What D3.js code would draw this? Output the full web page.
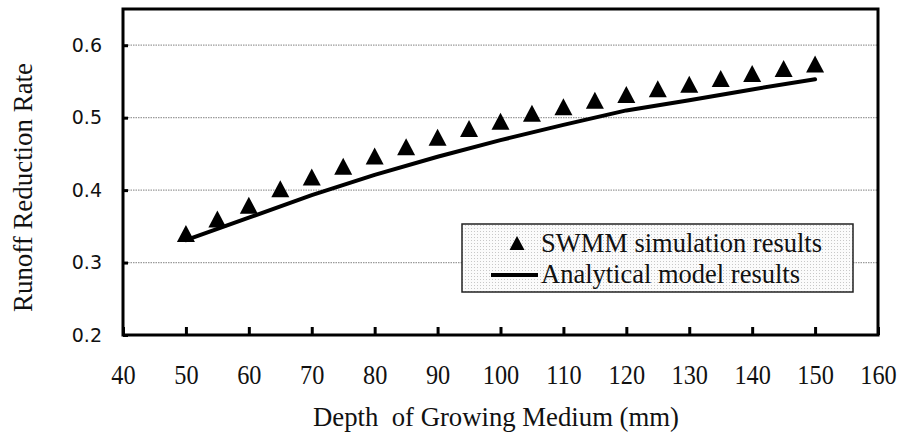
<!DOCTYPE html>
<html><head><meta charset="utf-8">
<script src="https://cdn.jsdelivr.net/npm/d3@7"></script>
<style>body{margin:0;background:#fff}</style>
</head><body>
<svg id="c" width="901" height="441"></svg>
<script>
const swmmDepth = [50,55,60,65,70,75,80,85,90,95,100,105,110,115,120,125,130,135,140,145,150];
const swmmRate = [0.340,0.360,0.379,0.402,0.418,0.433,0.447,0.460,0.473,0.485,0.495,0.506,0.515,0.524,0.532,0.540,0.546,0.554,0.561,0.568,0.574];
const modelDepth = [50,60,70,80,90,100,110,120,130,140,150];
const modelRate = [0.331,0.362,0.393,0.421,0.446,0.469,0.490,0.510,0.524,0.539,0.553];
const xTicks = [40,50,60,70,80,90,100,110,120,130,140,150,160];
const yTicks = [0.2,0.3,0.4,0.5,0.6];
const seriesNames = ["SWMM simulation results","Analytical model results"];
const xTitle = "Depth  of Growing Medium (mm)";
const yTitle = "Runoff Reduction Rate";

const svg = d3.select("#c");
const L=123, R=878, T=9, B=335;
const x = d3.scaleLinear().domain([40,160]).range([L,R]);
const y = d3.scaleLinear().domain([0.2,0.65]).range([B,T]);
const serif = "'Liberation Serif','Times New Roman',serif";
const sans = "'DejaVu Sans',Verdana,sans-serif";

// pattern for legend
const defs = svg.append("defs");
const pat = defs.append("pattern").attr("id","dots").attr("width",3).attr("height",3).attr("patternUnits","userSpaceOnUse");
pat.append("rect").attr("width",3).attr("height",3).attr("fill","#fbfbfb");
pat.append("rect").attr("width",1).attr("height",1).attr("fill","#c8c8c8");

// gridlines
svg.append("g").selectAll("line").data(yTicks.filter(d=>d>0.2)).join("line")
  .attr("x1",L).attr("x2",R).attr("y1",d=>y(d)).attr("y2",d=>y(d))
  .attr("stroke","#9a9a9a").attr("stroke-width",1.2).attr("stroke-dasharray","1.5,1");

// axes
const ya = svg.append("g").attr("transform",`translate(${L},0)`)
  .call(d3.axisLeft(y).tickValues(yTicks).tickFormat(d3.format(".1f")).tickSizeInner(-5).tickSizeOuter(0).tickPadding(21));
ya.select(".domain").remove();
ya.selectAll("line").attr("stroke","#000").attr("stroke-width",3);
ya.selectAll("text").attr("font-family",sans).attr("font-size",19).attr("fill","#111");

const xa = svg.append("g").attr("transform",`translate(0,${B})`)
  .call(d3.axisBottom(x).tickValues(xTicks).tickSizeInner(-8).tickSizeOuter(0).tickPadding(30));
xa.select(".domain").remove();
xa.selectAll("line").attr("stroke","#000").attr("stroke-width",3);
xa.selectAll("text").attr("font-family",serif).attr("font-size",27).attr("fill","#111")
  .attr("transform","scale(0.9,1)").attr("x",function(d){return 0;});
xa.selectAll(".tick text").attr("transform","scale(0.9,1)");

// frame
svg.append("rect").attr("x",L).attr("y",T).attr("width",R-L).attr("height",B-T)
  .attr("fill","none").attr("stroke","#000").attr("stroke-width",3);

// model line
svg.append("path").datum(modelDepth.map((d,i)=>[d,modelRate[i]]))
  .attr("d",d3.line().x(d=>x(d[0])).y(d=>y(d[1])))
  .attr("fill","none").attr("stroke","#000").attr("stroke-width",4).attr("stroke-linecap","round").attr("stroke-linejoin","round");

// triangles
const tri = (w,h)=>`M0,${-h/2}L${w/2},${h/2}L${-w/2},${h/2}Z`;
svg.append("g").selectAll("path").data(swmmDepth.map((d,i)=>[d,swmmRate[i]])).join("path")
  .attr("transform",d=>`translate(${x(d[0])},${y(d[1])})`)
  .attr("d",tri(18,17)).attr("fill","#000");

// legend
const lg = svg.append("g");
lg.append("rect").attr("x",462).attr("y",224).attr("width",391).attr("height",68)
  .attr("fill","url(#dots)").attr("stroke","#222").attr("stroke-width",1.5);
lg.append("path").attr("transform","translate(517,243)").attr("d",tri(15,14)).attr("fill","#000");
lg.append("line").attr("x1",491).attr("x2",538).attr("y1",275).attr("y2",275).attr("stroke","#000").attr("stroke-width",4);
lg.append("text").attr("x",541).attr("y",252).text(seriesNames[0])
  .attr("font-family",serif).attr("font-size",27).attr("fill","#111")
  .attr("textLength",281).attr("lengthAdjust","spacingAndGlyphs");
lg.append("text").attr("x",541).attr("y",283).text(seriesNames[1])
  .attr("font-family",serif).attr("font-size",27).attr("fill","#111")
  .attr("textLength",259).attr("lengthAdjust","spacingAndGlyphs");

// titles
svg.append("text").attr("x",313).attr("y",426).text(xTitle)
  .attr("font-family",serif).attr("font-size",27).attr("fill","#111")
  .attr("textLength",366).attr("lengthAdjust","spacingAndGlyphs").style("white-space","pre");
svg.append("text").attr("transform","translate(32,312) rotate(-90)").text(yTitle)
  .attr("font-family",serif).attr("font-size",27).attr("fill","#111")
  .attr("textLength",249).attr("lengthAdjust","spacingAndGlyphs");
</script>
</body></html>
